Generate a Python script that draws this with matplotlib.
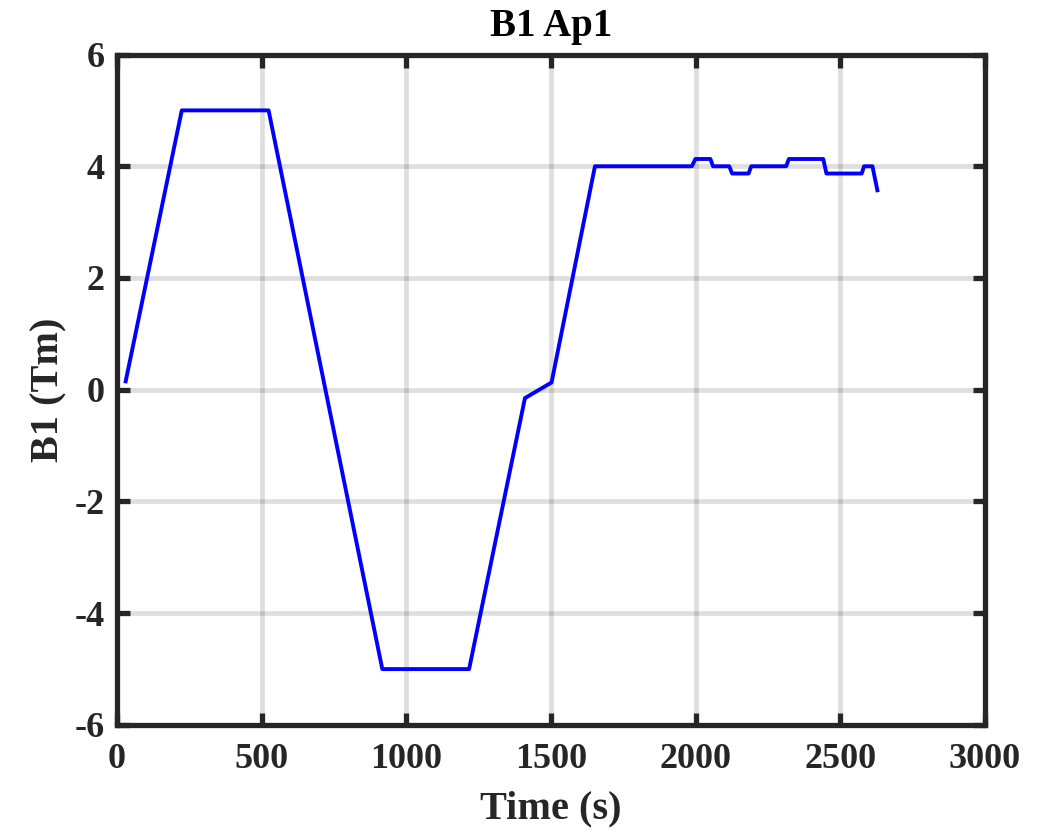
import matplotlib
matplotlib.use("Agg")
from matplotlib import pyplot as plt

# B1 field vs time
time_s = [30, 224, 524, 917, 1217, 1410, 1502, 1652,
          1987, 1999, 2051, 2060, 2116, 2126, 2183, 2192,
          2313, 2322, 2441, 2452, 2574, 2582, 2611, 2628]
b1_tm = [0.15, 5.0, 5.0, -5.0, -5.0, -0.15, 0.13, 4.0,
         4.0, 4.13, 4.13, 4.0, 4.0, 3.87, 3.87, 4.0,
         4.0, 4.13, 4.13, 3.87, 3.87, 4.0, 4.0, 3.57]

x_ticks = [0, 500, 1000, 1500, 2000, 2500, 3000]
y_ticks = [-6, -4, -2, 0, 2, 4, 6]

plt.rcParams['font.family'] = ['Liberation Serif', 'DejaVu Serif']
plt.rcParams['font.weight'] = 'bold'
plt.rcParams['axes.unicode_minus'] = False

fig = plt.figure(figsize=(10.51, 8.31), dpi=100)
ax = fig.add_axes([0.1113, 0.1276, 0.8259, 0.8068])

ax.plot(time_s, b1_tm, color='#0000ff', linewidth=2.8)

ax.set_xlim(0, 3000)
ax.set_ylim(-6, 6)
ax.set_xticks(x_ticks)
ax.set_yticks(y_ticks)
ax.grid(True, color='black', alpha=0.13, linewidth=3.4)
ax.set_axisbelow(True)

for spine in ax.spines.values():
    spine.set_linewidth(3.8)
    spine.set_color('#262626')
ax.tick_params(direction='in', length=9, width=3.8, color='#262626',
               top=True, right=True, labelsize=26, labelcolor='#262626')
ax.tick_params(axis='x', pad=13)
ax.tick_params(axis='y', pad=9)
for lbl in ax.get_xticklabels() + ax.get_yticklabels():
    lbl.set_fontweight('bold')

ax.set_title("B1 Ap1", fontsize=28, fontweight='bold', pad=13.5)
ax.set_xlabel("Time (s)", fontsize=29, fontweight='bold', labelpad=10,
              color='#262626')
ax.set_ylabel("B1 (Tm)", fontsize=29, fontweight='bold', labelpad=5,
              color='#262626')

fig.savefig("out.png", dpi=100)
